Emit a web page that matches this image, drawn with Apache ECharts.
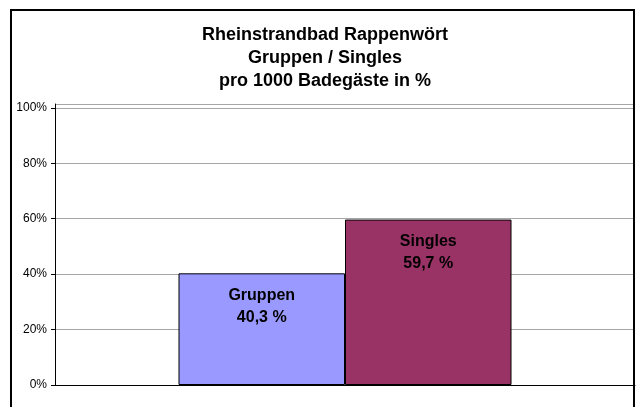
<!DOCTYPE html>
<html>
<head>
<meta charset="utf-8">
<script src="https://cdn.jsdelivr.net/npm/echarts@6/dist/echarts.min.js"></script>
<style>
html,body{margin:0;padding:0;background:#fff;}
#chart{width:636px;height:407px;}
</style>
</head>
<body>
<div id="chart"></div>
<script>
const titleLines = ['Rheinstrandbad Rappenwört', 'Gruppen / Singles', 'pro 1000 Badegäste in %'];
const categories = ['Gruppen', 'Singles'];
const values = [40.3, 59.7];
const valueLabels = ['40,3 %', '59,7 %'];
const colors = ['#9999FF', '#993366'];
const yTicks = [0, 20, 40, 60, 80, 100];

const chart = echarts.init(document.getElementById('chart'), null, {renderer: 'canvas'});
const fontFamily = '"Liberation Sans", Arial, sans-serif';

chart.setOption({
  backgroundColor: '#fff',
  animation: false,
  title: {
    text: titleLines.join('\n'),
    left: 325,
    textAlign: 'center',
    top: 24,
    padding: 0,
    textStyle: {fontFamily, fontSize: 18, fontWeight: 'bold', color: '#000', lineHeight: 23}
  },
  grid: {left: 55, right: 1, top: 104, bottom: 22, containLabel: false},
  xAxis: {
    type: 'category',
    data: [''],
    axisLine: {show: true, lineStyle: {color: '#000', width: 1}},
    axisTick: {show: false},
    axisLabel: {show: false},
    splitLine: {show: false}
  },
  yAxis: {
    type: 'value',
    min: 0,
    max: 101.4,
    interval: 20,
    axisLine: {show: true, lineStyle: {color: '#000', width: 1}},
    axisTick: {show: true, length: 4, lineStyle: {color: '#000'}},
    axisLabel: {
      showMaxLabel: false,
      margin: 8,
      fontFamily, fontSize: 12, color: '#000',
      formatter: v => (yTicks.indexOf(v) >= 0 ? v + '%' : '')
    },
    splitLine: {show: true, lineStyle: {color: '#a6a6a6', width: 1}}
  },
  series: categories.map((name, i) => ({
    type: 'bar',
    name,
    data: [values[i]],
    barWidth: 166.5,
    barGap: '0%',
    itemStyle: {color: colors[i], borderColor: '#000', borderWidth: 1},
    label: {
      show: true,
      position: 'insideTop',
      distance: 11,
      formatter: () => name + '\n' + valueLabels[i],
      fontFamily, fontSize: 16, fontWeight: 'bold', color: '#000', lineHeight: 22
    }
  })),
  graphic: [{
    type: 'rect',
    shape: {x: 11, y: 10, width: 623, height: 420},
    style: {fill: 'none', stroke: '#000', lineWidth: 2},
    silent: true,
    z: 100
  }]
});
</script>
</body>
</html>
